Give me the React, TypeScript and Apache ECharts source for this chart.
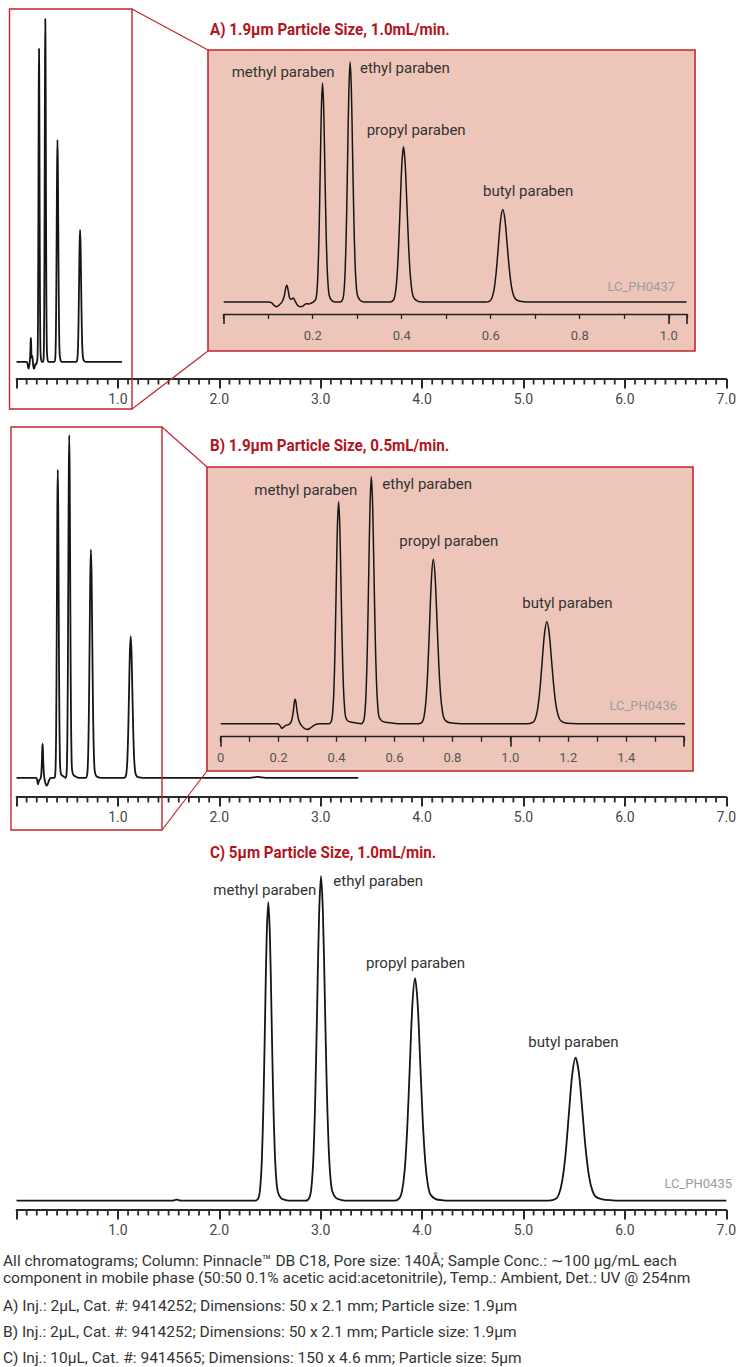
import React, { useEffect, useRef } from 'react';
import * as echarts from 'echarts';

// ---------- data ----------
const PEAK_NAMES = ['methyl paraben', 'ethyl paraben', 'propyl paraben', 'butyl paraben'];
const PANEL_TITLES = [
  'A) 1.9μm Particle Size, 1.0mL/min.',
  'B) 1.9μm Particle Size, 0.5mL/min.',
  'C) 5μm Particle Size, 1.0mL/min.',
];
const FIGURE_CODES = ['LC_PH0437', 'LC_PH0436', 'LC_PH0435'];
const MAIN_TICK_LABELS = ['', '1.0', '2.0', '3.0', '4.0', '5.0', '6.0', '7.0'];
const INSET_A_TICK_LABELS = ['', '', '0.2', '', '0.4', '', '0.6', '', '0.8', '', '1.0'];
const INSET_B_TICK_LABELS = ['0', '', '0.2', '', '0.4', '', '0.6', '', '0.8', '', '1.0', '', '1.2', '', '1.4', '', ''];
// 0.1-min graduation marks between the whole minutes of the 0–7 min time axis
const MINOR_TICKS = Array.from({ length: 71 }, (_, i) => i / 10).filter((_, i) => i % 10 !== 0);
const NOTES = [
  'All chromatograms; Column: Pinnacle™ DB C18, Pore size: 140Å; Sample Conc.: ∼100 μg/mL each',
  'component in mobile phase (50:50 0.1% acetic acid:acetonitrile), Temp.: Ambient, Det.: UV @ 254nm',
  'A) Inj.: 2μL, Cat. #: 9414252; Dimensions: 50 x 2.1 mm; Particle size: 1.9μm',
  'B) Inj.: 2μL, Cat. #: 9414252; Dimensions: 50 x 2.1 mm; Particle size: 1.9μm',
  'C) Inj.: 10μL, Cat. #: 9414565; Dimensions: 150 x 4.6 mm; Particle size: 5μm',
];

// time (min), detector signal (ethyl paraben apex = 100)
const TRACE_A: [number, number][] = [
  [0, 0], [0.1, 0], [0.108, -0.4], [0.114, -1.5], [0.119, -2], [0.125, -1.2], [0.131, 0],
  [0.136, 2.5], [0.1395, 6], [0.142, 7], [0.1445, 5.2], [0.148, 1.8], [0.152, 1.1], [0.156, 1.7],
  [0.1605, 0.4], [0.166, -1.4], [0.172, -2], [0.178, -1.7], [0.185, -0.7], [0.192, -0.8], [0.197, -0.4],
  // methyl
  [0.2016, 0], [0.2067, 1.0], [0.2093, 4.0], [0.2118, 12.3], [0.2144, 29.7], [0.2169, 55.4], [0.2195, 80.5],
  [0.222, 91.3], [0.2246, 81.3], [0.2271, 57.5], [0.2297, 32.9], [0.2322, 15.5], [0.2348, 6.4],
  [0.2373, 2.6], [0.2424, 0.7], [0.2501, 0],
  // ethyl
  [0.262, 0], [0.2675, 1.1], [0.2703, 4.4], [0.273, 13.5], [0.2758, 32.5], [0.2785, 60.7], [0.2813, 88.2],
  [0.284, 100], [0.2868, 89], [0.2895, 63], [0.2923, 36], [0.295, 17], [0.2978, 7], [0.3005, 2.8],
  [0.306, 0.8], [0.3143, 0],
  // propyl
  [0.3734, 0], [0.3811, 0.7], [0.3849, 2.8], [0.3887, 8.7], [0.3925, 21], [0.3964, 39.3], [0.4002, 57.1],
  [0.404, 64.7], [0.4078, 57.6], [0.4116, 40.8], [0.4155, 23.3], [0.4193, 11], [0.4231, 4.5],
  [0.4269, 1.8], [0.4346, 0.5], [0.446, 0],
  // butyl
  [0.5879, 0], [0.5977, 0.4], [0.6026, 1.7], [0.6075, 5.2], [0.6123, 12.5], [0.6172, 23.4], [0.6221, 34],
  [0.627, 38.5], [0.6319, 34.3], [0.6368, 24.3], [0.6417, 13.9], [0.6465, 6.5], [0.6514, 2.7],
  [0.6563, 1.1], [0.6661, 0.3], [0.6807, 0], [1.04, 0],
];

const TRACE_B: [number, number][] = [
  [0, 0], [0.195, 0], [0.203, -0.5], [0.208, -1.4], [0.212, -1.9], [0.218, -1.3], [0.226, -0.6],
  [0.236, -0.3], [0.244, 1], [0.25, 4.5], [0.254, 8.5], [0.257, 9.9], [0.26, 8.6], [0.264, 4.8],
  [0.27, 1.2], [0.279, -0.8], [0.289, -1.9], [0.299, -2.3], [0.309, -1.8], [0.319, -0.9], [0.33, -0.2],
  [0.342, 0],
  // methyl
  [0.3737, 0], [0.382, 1.0], [0.3862, 4.0], [0.3904, 12.1], [0.3945, 29.2], [0.3987, 54.6], [0.4028, 79.3],
  [0.407, 89.9], [0.4112, 80], [0.4153, 56.6], [0.4195, 32.4], [0.4236, 15.3], [0.4278, 6.3],
  [0.432, 2.5], [0.4403, 1.0], [0.4528, 0.6], [0.468, 0.3],
  // ethyl
  [0.4844, 0], [0.4933, 1.1], [0.4978, 4.4], [0.5022, 13.5], [0.5067, 32.5], [0.5111, 60.7], [0.5156, 88.2],
  [0.52, 100], [0.5245, 89], [0.5289, 63], [0.5334, 36], [0.5378, 17], [0.5423, 7], [0.5467, 2.8],
  [0.5556, 1.2], [0.569, 0.6], [0.59, 0.3], [0.61, 0],
  // propyl
  [0.683, 0], [0.6958, 0.7], [0.7021, 2.9], [0.7085, 9], [0.7149, 21.6], [0.7213, 40.4], [0.7276, 58.7],
  [0.734, 66.6], [0.7404, 59.3], [0.7467, 42], [0.7531, 24], [0.7595, 11.3], [0.7659, 4.7],
  [0.7722, 1.9], [0.785, 0.6], [0.804, 0.2], [0.83, 0],
  // butyl
  [1.0614, 0], [1.0776, 0.5], [1.0856, 1.8], [1.0937, 5.6], [1.1018, 13.4], [1.1099, 25.1], [1.1179, 36.4],
  [1.126, 41.3], [1.1341, 36.8], [1.1421, 26], [1.1502, 14.9], [1.1583, 7], [1.1664, 2.9],
  [1.1744, 1.2], [1.1906, 0.3], [1.2148, 0.1], [1.24, 0],
  [2.3, 0], [2.36, 0.2], [2.385, 0.3], [2.41, 0.15], [2.46, 0], [3.37, 0],
];

const TRACE_C: [number, number][] = [
  [0, 0], [1.54, 0], [1.58, 0.3], [1.62, 0],
  // methyl
  [2.356, 0], [2.3876, 1.0], [2.4035, 4.0], [2.4194, 12.4], [2.4353, 29.9], [2.4512, 55.8], [2.4671, 81.1],
  [2.483, 92], [2.4989, 81.9], [2.5148, 58], [2.5307, 33.1], [2.5466, 15.6], [2.5625, 6.4],
  [2.5784, 2.6], [2.6102, 0.7], [2.6579, 0.2], [2.7, 0],
  // ethyl
  [2.8534, 0], [2.8908, 1.1], [2.9095, 4.4], [2.9282, 13.5], [2.9469, 32.5], [2.9656, 60.7], [2.9843, 88.2],
  [3.003, 100], [3.0217, 89], [3.0404, 63], [3.0591, 36], [3.0778, 17], [3.0965, 7],
  [3.1152, 2.8], [3.1526, 0.8], [3.2087, 0.2], [3.26, 0],
  // propyl
  [3.726, 0], [3.777, 0.8], [3.8025, 3.0], [3.828, 9.3], [3.8535, 22.3], [3.879, 41.6], [3.9045, 60.5],
  [3.93, 68.6], [3.9555, 61.1], [3.981, 43.2], [4.0065, 24.7], [4.032, 11.7], [4.0575, 4.8],
  [4.083, 1.9], [4.134, 0.5], [4.2105, 0.1], [4.27, 0],
  // butyl
  [5.2492, 0], [5.3154, 0.5], [5.3485, 1.9], [5.3816, 6], [5.4147, 14.3], [5.4478, 26.8], [5.4809, 38.9],
  [5.514, 44.1], [5.5471, 39.2], [5.5802, 27.8], [5.6133, 15.9], [5.6464, 7.5], [5.6795, 3.1],
  [5.7126, 1.2], [5.7788, 0.4], [5.8781, 0.1], [5.95, 0], [7, 0],
];

// ---------- styling / layout ----------
const FONT = 'Roboto, "Noto Sans", "DejaVu Sans", sans-serif';
const RED = '#c0262e';
const TITLE_RED = '#b3141e';
const PINK = '#eec6b9';
const INK = '#151515';
const AXIS = '#2a2a2a';

const isStep = (v: number, step: number) => Math.abs(v / step - Math.round(v / step)) < 1e-6;

// labelled main axis: long ticks every 1.0 min
function mainXAxis(gridIndex: number) {
  return {
    type: 'value', gridIndex, min: 0, max: 7, interval: 1,
    axisLine: { show: true, onZero: false, lineStyle: { color: AXIS, width: 1.8 } },
    axisTick: { show: true, length: 9.5, lineStyle: { color: AXIS, width: 2 } },
    axisLabel: {
      formatter: (v: number) => (isStep(v, 1) ? MAIN_TICK_LABELS[Math.round(v)] ?? '' : ''),
      color: '#474747', fontSize: 14, fontFamily: FONT, margin: 13,
    },
    splitLine: { show: false },
  };
}

function majorTickAxis(gridIndex: number, max: number, length: number, color: string) {
  return {
    type: 'value', gridIndex, position: 'bottom', min: 0, max, interval: 1,
    axisLine: { show: false, onZero: false },
    axisTick: { show: true, length, lineStyle: { color, width: 1.6 } },
    axisLabel: { show: false },
    splitLine: { show: false },
  };
}

function insetXAxis(gridIndex: number, max: number, labels: string[], margin: number) {
  return {
    type: 'value', gridIndex, min: 0, max, interval: 0.1,
    axisLine: { show: true, onZero: false, lineStyle: { color: '#222', width: 1.4 } },
    axisTick: { show: true, length: 5, lineStyle: { color: '#222', width: 1.3 } },
    axisLabel: {
      formatter: (v: number) => (isStep(v, 0.1) ? labels[Math.round(v * 10)] ?? '' : ''),
      color: '#555', fontSize: 13, fontFamily: FONT, margin,
    },
    splitLine: { show: false },
  };
}

function hiddenY(gridIndex: number, min: number, max: number) {
  return { type: 'value', gridIndex, min, max, show: false, splitLine: { show: false } };
}

function trace(data: [number, number][], xAxisIndex: number, yAxisIndex: number, width: number) {
  return {
    type: 'line', xAxisIndex, yAxisIndex, data,
    showSymbol: false, symbol: 'none', smooth: 0.3,
    clip: true, silent: true,
    lineStyle: { color: INK, width },
  };
}

// short 0.1-min graduations placed through the main time axis scale
function minorTickSeries(xAxisIndex: number, yAxisIndex: number, yMin: number) {
  return {
    type: 'custom', xAxisIndex, yAxisIndex, silent: true, clip: false, z: 3,
    data: MINOR_TICKS.map((t) => [t, yMin]),
    renderItem: (_params: any, api: any) => {
      const p = api.coord([api.value(0), api.value(1)]);
      return {
        type: 'line',
        shape: { x1: p[0], y1: p[1], x2: p[0], y2: p[1] + 5.5 },
        style: { stroke: AXIS, lineWidth: 1.8 },
      };
    },
  };
}

function text(str: string, x: number, y: number, o: any = {}) {
  const align = o.align || 'left';
  return {
    type: 'text', x, y, z: 20, scaleX: o.scaleX ?? 1,
    style: {
      text: str, fill: o.fill || '#333', fontSize: o.fontSize || 15,
      fontFamily: FONT, fontWeight: o.fontWeight || 'normal',
      textAlign: align, align, textVerticalAlign: 'middle', verticalAlign: 'middle',
    },
  };
}

function buildOption() {
  const titleStyle = { fill: TITLE_RED, fontSize: 16.5, fontWeight: 'bold', scaleX: 0.92 };
  const labelStyle = { fill: '#333', fontSize: 15 };
  const codeStyle = { fill: '#9c9c9c', fontSize: 13, align: 'right' };

  const elements: any[] = [
    { type: 'rect', z: -1, shape: { x: 208, y: 50, width: 487, height: 301 }, style: { fill: PINK, stroke: RED, lineWidth: 1.6 } },
    { type: 'rect', z: 5, shape: { x: 9.5, y: 9, width: 122.5, height: 400 }, style: { fill: 'none', stroke: RED, lineWidth: 1.4 } },
    { type: 'line', z: 5, shape: { x1: 132, y1: 9, x2: 208, y2: 50 }, style: { stroke: RED, lineWidth: 1.2 } },
    { type: 'line', z: 5, shape: { x1: 132, y1: 409, x2: 208, y2: 351 }, style: { stroke: RED, lineWidth: 1.2 } },
    { type: 'rect', z: -1, shape: { x: 207, y: 467, width: 486, height: 304 }, style: { fill: PINK, stroke: RED, lineWidth: 1.6 } },
    { type: 'rect', z: 5, shape: { x: 11, y: 427, width: 151, height: 403 }, style: { fill: 'none', stroke: RED, lineWidth: 1.4 } },
    { type: 'line', z: 5, shape: { x1: 162, y1: 427, x2: 207, y2: 467 }, style: { stroke: RED, lineWidth: 1.2 } },
    { type: 'line', z: 5, shape: { x1: 162, y1: 830, x2: 207, y2: 771 }, style: { stroke: RED, lineWidth: 1.2 } },

    text(PANEL_TITLES[0], 210, 29.5, titleStyle),
    text(PANEL_TITLES[1], 210, 445, titleStyle),
    text(PANEL_TITLES[2], 210, 852, titleStyle),

    text(PEAK_NAMES[0], 231.7, 71.7, labelStyle),
    text(PEAK_NAMES[1], 360, 68.3, labelStyle),
    text(PEAK_NAMES[2], 366.7, 130, labelStyle),
    text(PEAK_NAMES[3], 483, 191, labelStyle),

    text(PEAK_NAMES[0], 254.3, 490, labelStyle),
    text(PEAK_NAMES[1], 382.3, 484.3, labelStyle),
    text(PEAK_NAMES[2], 399.3, 540.7, labelStyle),
    text(PEAK_NAMES[3], 522.3, 603.3, labelStyle),

    text(PEAK_NAMES[0], 213.3, 890, labelStyle),
    text(PEAK_NAMES[1], 333.3, 880.7, labelStyle),
    text(PEAK_NAMES[2], 366, 963.3, labelStyle),
    text(PEAK_NAMES[3], 528.3, 1042.3, labelStyle),

    text(FIGURE_CODES[0], 675, 286, codeStyle),
    text(FIGURE_CODES[1], 677, 705, codeStyle),
    text(FIGURE_CODES[2], 732, 1183, codeStyle),
  ];
  const noteY = [1261, 1278, 1305.5, 1332, 1357.5];
  NOTES.forEach((n, i) => elements.push(text(n, 3, noteY[i], { fill: '#333', fontSize: 15.5 })));

  const Y_MIN = [-5, -5, -5.6, -5.26, -2.87];

  return {
    animation: false,
    backgroundColor: '#ffffff',
    grid: [
      { left: 16.5, top: 1.7, width: 717.5, height: 377.3 },   // A main
      { left: 223.7, top: 50, width: 463.3, height: 264 },     // A inset
      { left: 16.5, top: 418, width: 717.5, height: 379 },     // B main
      { left: 220.7, top: 464.4, width: 463.4, height: 272.3 },// B inset
      { left: 16.5, top: 860, width: 717.5, height: 350 },     // C main
    ],
    xAxis: [
      mainXAxis(0),                                  // 0
      insetXAxis(1, 1.041, INSET_A_TICK_LABELS, 15), // 1
      majorTickAxis(1, 1.041, 10, '#222'),           // 2
      mainXAxis(2),                                  // 3
      insetXAxis(3, 1.6, INSET_B_TICK_LABELS, 14.5), // 4
      majorTickAxis(3, 1.6, 10, '#222'),             // 5
      mainXAxis(4),                                  // 6
    ],
    yAxis: Y_MIN.map((m, i) => hiddenY(i, m, 105)),
    series: [
      trace(TRACE_A, 0, 0, 1.8),
      trace(TRACE_A, 1, 1, 1.5),
      trace(TRACE_B, 3, 2, 1.8),
      trace(TRACE_B, 4, 3, 1.5),
      trace(TRACE_C, 6, 4, 1.8),
      minorTickSeries(0, 0, Y_MIN[0]),
      minorTickSeries(3, 2, Y_MIN[2]),
      minorTickSeries(6, 4, Y_MIN[4]),
    ],
    graphic: { elements },
  };
}

export default function App() {
  const ref = useRef<HTMLDivElement>(null);
  useEffect(() => {
    document.body.style.margin = '0';
    const chart = echarts.init(ref.current as HTMLDivElement, undefined, { renderer: 'svg' });
    chart.setOption(buildOption() as any);
    return () => chart.dispose();
  }, []);
  return <div ref={ref} style={{ width: 739, height: 1367 }} />;
}
